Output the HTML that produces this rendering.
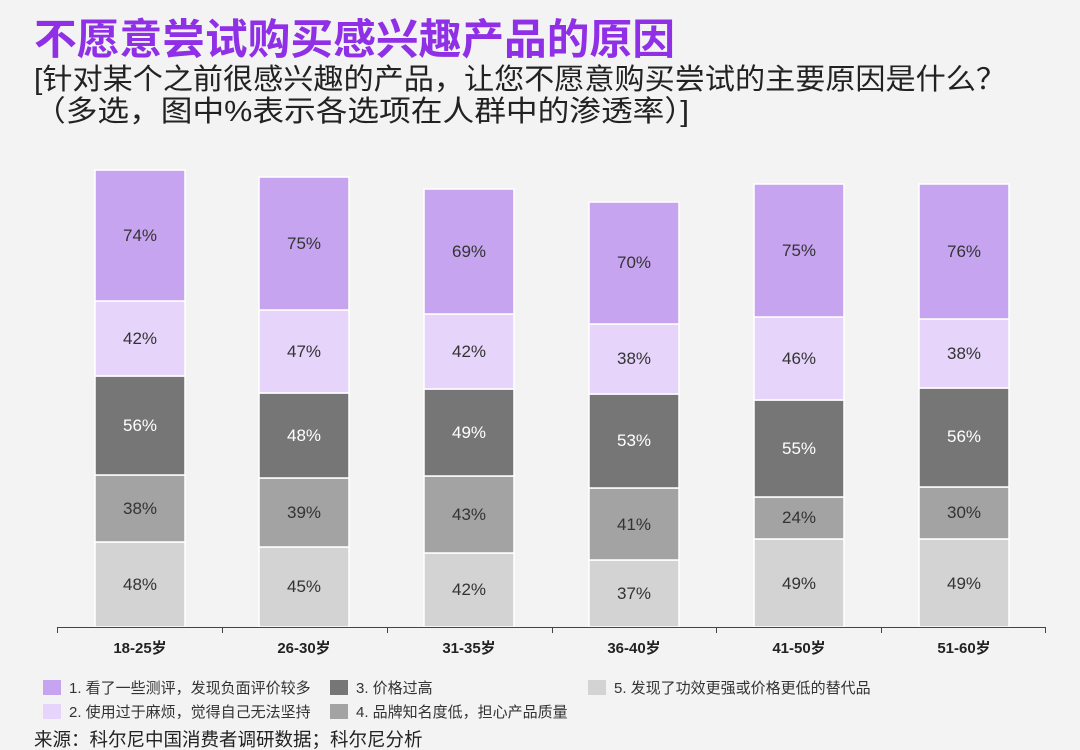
<!DOCTYPE html>
<html><head><meta charset="utf-8"><style>
body{margin:0;background:#f3f3f3;}
svg{display:block;font-family:"Liberation Sans","Noto Sans CJK SC",sans-serif;}
</style></head><body>
<svg width="1080" height="750" viewBox="0 0 1080 750">
<rect width="1080" height="750" fill="#f3f3f3"/>
<text x="34" y="54" font-size="42" font-weight="bold" fill="#8f2fe6" textLength="641" lengthAdjust="spacingAndGlyphs">不愿意尝试购买感兴趣产品的原因</text>
<text x="34" y="89" font-size="29" fill="#222" textLength="972" lengthAdjust="spacingAndGlyphs">[针对某个之前很感兴趣的产品，让您不愿意购买尝试的主要原因是什么？</text>
<text x="34" y="121" font-size="29" fill="#222" textLength="655" lengthAdjust="spacingAndGlyphs">（多选，图中%表示各选项在人群中的渗透率）]</text>
<g stroke="#fff" stroke-width="1.5">
<rect x="95" y="542" width="90" height="85" fill="#d3d3d3"/>
<rect x="95" y="475" width="90" height="67" fill="#a3a3a3"/>
<rect x="95" y="376" width="90" height="99" fill="#767676"/>
<rect x="95" y="301" width="90" height="75" fill="#e7d4fa"/>
<rect x="95" y="170" width="90" height="131" fill="#c6a4ef"/>
<rect x="259" y="547" width="90" height="80" fill="#d3d3d3"/>
<rect x="259" y="478" width="90" height="69" fill="#a3a3a3"/>
<rect x="259" y="393" width="90" height="85" fill="#767676"/>
<rect x="259" y="310" width="90" height="83" fill="#e7d4fa"/>
<rect x="259" y="177" width="90" height="133" fill="#c6a4ef"/>
<rect x="424" y="553" width="90" height="74" fill="#d3d3d3"/>
<rect x="424" y="476" width="90" height="77" fill="#a3a3a3"/>
<rect x="424" y="389" width="90" height="87" fill="#767676"/>
<rect x="424" y="314" width="90" height="75" fill="#e7d4fa"/>
<rect x="424" y="189" width="90" height="125" fill="#c6a4ef"/>
<rect x="589" y="560" width="90" height="67" fill="#d3d3d3"/>
<rect x="589" y="488" width="90" height="72" fill="#a3a3a3"/>
<rect x="589" y="394" width="90" height="94" fill="#767676"/>
<rect x="589" y="324" width="90" height="70" fill="#e7d4fa"/>
<rect x="589" y="202" width="90" height="122" fill="#c6a4ef"/>
<rect x="754" y="539" width="90" height="88" fill="#d3d3d3"/>
<rect x="754" y="497" width="90" height="42" fill="#a3a3a3"/>
<rect x="754" y="400" width="90" height="97" fill="#767676"/>
<rect x="754" y="317" width="90" height="83" fill="#e7d4fa"/>
<rect x="754" y="184" width="90" height="133" fill="#c6a4ef"/>
<rect x="919" y="539" width="90" height="88" fill="#d3d3d3"/>
<rect x="919" y="487" width="90" height="52" fill="#a3a3a3"/>
<rect x="919" y="388" width="90" height="99" fill="#767676"/>
<rect x="919" y="319" width="90" height="69" fill="#e7d4fa"/>
<rect x="919" y="184" width="90" height="135" fill="#c6a4ef"/>
</g>
<g font-size="17" text-anchor="middle" fill="#333">
<text x="140" y="590">48%</text><text x="140" y="514">38%</text><text x="140" y="431" fill="#fff">56%</text><text x="140" y="344">42%</text><text x="140" y="241">74%</text>
<text x="304" y="592">45%</text><text x="304" y="518">39%</text><text x="304" y="441" fill="#fff">48%</text><text x="304" y="357">47%</text><text x="304" y="249">75%</text>
<text x="469" y="595">42%</text><text x="469" y="520">43%</text><text x="469" y="438" fill="#fff">49%</text><text x="469" y="357">42%</text><text x="469" y="257">69%</text>
<text x="634" y="599">37%</text><text x="634" y="530">41%</text><text x="634" y="446" fill="#fff">53%</text><text x="634" y="364">38%</text><text x="634" y="268">70%</text>
<text x="799" y="589">49%</text><text x="799" y="523">24%</text><text x="799" y="454" fill="#fff">55%</text><text x="799" y="364">46%</text><text x="799" y="256">75%</text>
<text x="964" y="589">49%</text><text x="964" y="518">30%</text><text x="964" y="442" fill="#fff">56%</text><text x="964" y="359">38%</text><text x="964" y="257">76%</text>
</g>
<g stroke="#444" stroke-width="1">
<line x1="57" y1="627.5" x2="1045" y2="627.5"/>
<line x1="57.5" y1="627" x2="57.5" y2="633"/><line x1="222.5" y1="627" x2="222.5" y2="633"/><line x1="387.5" y1="627" x2="387.5" y2="633"/><line x1="552.5" y1="627" x2="552.5" y2="633"/><line x1="716.5" y1="627" x2="716.5" y2="633"/><line x1="881.5" y1="627" x2="881.5" y2="633"/><line x1="1045.5" y1="627" x2="1045.5" y2="633"/>
</g>
<g font-size="15" font-weight="bold" text-anchor="middle" fill="#222">
<text x="140" y="653">18-25岁</text><text x="304" y="653">26-30岁</text><text x="469" y="653">31-35岁</text><text x="634" y="653">36-40岁</text><text x="799" y="653">41-50岁</text><text x="964" y="653">51-60岁</text>
</g>
<g font-size="15" fill="#333">
<rect x="43" y="680" width="18" height="15" fill="#c6a4ef"/><text x="69" y="693">1. 看了一些测评，发现负面评价较多</text>
<rect x="43" y="704" width="18" height="15" fill="#e7d4fa"/><text x="69" y="717">2. 使用过于麻烦，觉得自己无法坚持</text>
<rect x="330" y="680" width="18" height="15" fill="#767676"/><text x="356" y="693">3. 价格过高</text>
<rect x="330" y="704" width="18" height="15" fill="#a3a3a3"/><text x="356" y="717">4. 品牌知名度低，担心产品质量</text>
<rect x="588" y="680" width="18" height="15" fill="#d3d3d3"/><text x="614" y="693">5. 发现了功效更强或价格更低的替代品</text>
</g>
<text x="34" y="746" font-size="18.5" fill="#222">来源：科尔尼中国消费者调研数据；科尔尼分析</text>
</svg>
</body></html>
